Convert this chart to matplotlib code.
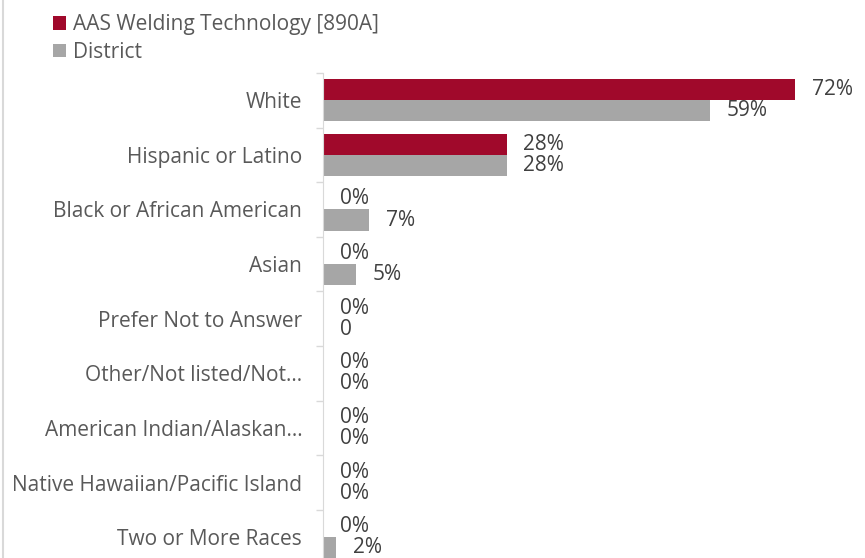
import matplotlib
matplotlib.use("Agg")
from matplotlib import pyplot as plt
from matplotlib.lines import Line2D
import numpy as np

categories = ["White", "Hispanic or Latino", "Black or African American", "Asian",
              "Prefer Not to Answer", "Other/Not listed/Not\u2026",
              "American Indian/Alaskan\u2026", "Native Hawaiian/Pacific Island",
              "Two or More Races"]
program = [72, 28, 0, 0, 0, 0, 0, 0, 0]
district = [59, 28, 7, 5, 0, 0, 0, 0, 2]
program_labels = ["72%", "28%", "0%", "0%", "0%", "0%", "0%", "0%", "0%"]
district_labels = ["59%", "28%", "7%", "5%", "0", "0%", "0%", "0%", "2%"]
series_names = ["AAS Welding Technology [890A]", "District"]

red = "#A0092B"
grey = "#A6A6A6"
text_col = "#595959"

plt.rcParams["font.family"] = ["Open Sans", "DejaVu Sans"]

fig = plt.figure(figsize=(8.65, 5.58), dpi=100)
# axes runs off the bottom of the figure, like the cropped original
ax = fig.add_axes([0.3734, -0.0115, 0.6063, 0.8807])

y = np.arange(len(categories))
h = 0.385
b1 = ax.barh(y - h / 2, program, height=h, color=red, label=series_names[0])
b2 = ax.barh(y + h / 2, district, height=h, color=grey, label=series_names[1])

for yi, v, lab in zip(y, program, program_labels):
    ax.annotate(lab, (v, yi - h / 2), xytext=(12, 0), textcoords="offset points",
                va="center", ha="left", fontsize=15, color="#404040")
for yi, v, lab in zip(y, district, district_labels):
    ax.annotate(lab, (v, yi + h / 2), xytext=(12, 0), textcoords="offset points",
                va="center", ha="left", fontsize=15, color="#404040")

ax.set_xlim(0, 80)
ax.set_ylim(len(categories) - 0.5, -0.5)
ax.set_yticks(y)
ax.set_yticklabels(categories, fontsize=15, color=text_col)
ax.set_yticks(np.arange(len(categories) + 1) - 0.5, minor=True)
ax.tick_params(axis="y", which="major", length=0, pad=15)
ax.tick_params(axis="y", which="minor", length=5, color="#D9D9D9", width=1)
ax.set_xticks([])
for s in ["top", "right", "bottom"]:
    ax.spines[s].set_visible(False)
ax.spines["left"].set_color("#D9D9D9")

fig.legend(handles=[b1, b2], loc="upper left", bbox_to_anchor=(0.040, 1.008),
           frameon=False, handlelength=0.6, handleheight=0.6, handletextpad=0.35,
           labelspacing=0.3, fontsize=15, labelcolor=text_col)

fig.add_artist(Line2D([0.004, 0.004], [0, 1], color="#D9D9D9", lw=1.5,
                      transform=fig.transFigure))

fig.savefig("out.png", dpi=100)
